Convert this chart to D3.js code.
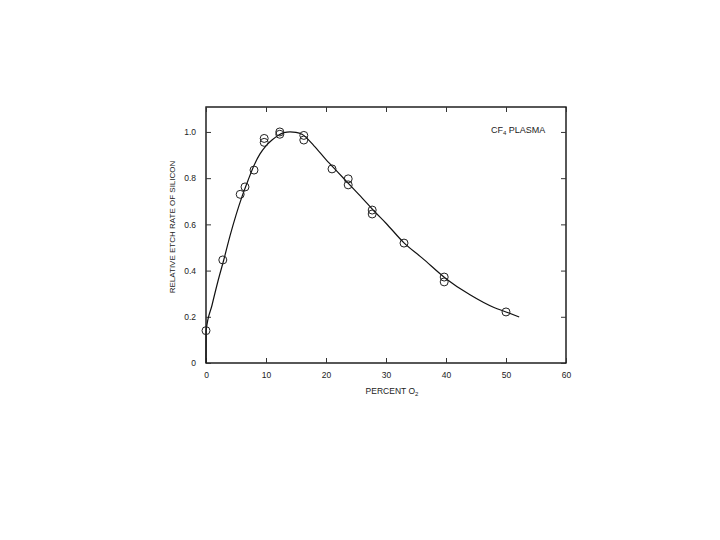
<!DOCTYPE html>
<html><head><meta charset="utf-8">
<script src="https://cdn.jsdelivr.net/npm/d3@7"></script>
<style>body{margin:0;background:#fff}svg{display:block}text{font-family:"Liberation Sans",Arial,sans-serif;fill:#222}</style>
</head><body>
<script>
const pointX = [0, 2.8, 5.7, 6.5, 8.0, 9.7, 9.7, 12.3, 12.3, 16.3, 16.3, 21, 23.7, 23.7, 27.7, 27.7, 33, 39.7, 39.7, 50];
const pointY = [0.14, 0.446, 0.73, 0.762, 0.835, 0.955, 0.972, 0.99, 1.0, 0.985, 0.965, 0.84, 0.797, 0.771, 0.662, 0.645, 0.519, 0.372, 0.351, 0.221];
const curveX = [0, 0.02, 1, 2, 3, 4, 5, 6, 7, 8, 9, 10, 11, 12, 13, 14, 15, 16, 18, 20, 22, 24, 26, 28, 30, 33, 36, 40, 44, 48, 50, 52.2];
const curveY = [0, 0.14, 0.25, 0.355, 0.45, 0.55, 0.64, 0.72, 0.79, 0.855, 0.905, 0.94, 0.965, 0.985, 0.997, 1.0, 0.998, 0.99, 0.94, 0.88, 0.825, 0.77, 0.715, 0.658, 0.605, 0.52, 0.455, 0.365, 0.295, 0.24, 0.221, 0.199];
const xTicks = [0, 10, 20, 30, 40, 50, 60];
const yTicks = [0, 0.2, 0.4, 0.6, 0.8, 1.0];
const yTickLabels = ["0", "0.2", "0.4", "0.6", "0.8", "1.0"];

const W = 720, H = 540;
const svg = d3.select("body").append("svg").attr("width", W).attr("height", H);
const x = d3.scaleLinear().domain([0, 60]).range([206, 566]);
const y = d3.scaleLinear().domain([0, 1.108]).range([363, 107]);

svg.append("rect").attr("x", 206).attr("y", 107).attr("width", 360).attr("height", 256)
  .attr("fill", "none").attr("stroke", "#111").attr("stroke-width", 1.4);

const gB = svg.append("g").attr("transform", "translate(0,363)")
  .call(d3.axisBottom(x).tickValues(xTicks).tickSize(-5).tickPadding(9).tickFormat(d3.format("d")));
const gT = svg.append("g").attr("transform", "translate(0,107)")
  .call(d3.axisTop(x).tickValues(xTicks).tickSize(-5).tickFormat(""));
const gL = svg.append("g").attr("transform", "translate(206,0)")
  .call(d3.axisLeft(y).tickValues(yTicks).tickSize(-5).tickPadding(10).tickFormat((d, i) => yTickLabels[i]));
const gR = svg.append("g").attr("transform", "translate(566,0)")
  .call(d3.axisRight(y).tickValues(yTicks).tickSize(-5).tickFormat(""));
[gB, gT, gL, gR].forEach(g => {
  g.select(".domain").remove();
  g.selectAll(".tick line").attr("stroke", "#333").attr("stroke-width", 1);
  g.selectAll("text").attr("font-size", 8.5).attr("fill", "#333").attr("font-family", "Liberation Sans, Arial, sans-serif");
});

const line = d3.line().x((d) => x(d[0])).y((d) => y(d[1])).curve(d3.curveMonotoneX);
svg.append("path").datum(curveX.map((v, i) => [v, curveY[i]]))
  .attr("d", line).attr("fill", "none").attr("stroke", "#111").attr("stroke-width", 1.2);

svg.append("g").selectAll("circle").data(pointX.map((v, i) => [v, pointY[i]])).join("circle")
  .attr("cx", d => x(d[0])).attr("cy", d => y(d[1])).attr("r", 4)
  .attr("fill", "none").attr("stroke", "#222").attr("stroke-width", 1);

svg.append("text").attr("transform", "translate(175,227) rotate(-90)").attr("text-anchor", "middle")
  .attr("font-size", 8).attr("fill", "#333").text("RELATIVE ETCH RATE OF SILICON");
const xl = svg.append("text").attr("x", 392).attr("y", 394).attr("text-anchor", "middle")
  .attr("font-size", 8.5).attr("fill", "#333");
xl.append("tspan").text("PERCENT O");
xl.append("tspan").attr("font-size", 6).attr("dy", 2).text("2");
const t = svg.append("text").attr("x", 491).attr("y", 133).attr("font-size", 9).attr("fill", "#333");
t.append("tspan").text("CF");
t.append("tspan").attr("font-size", 6).attr("dy", 2).text("4");
t.append("tspan").attr("dy", -2).text(" PLASMA");
</script>
</body></html>
